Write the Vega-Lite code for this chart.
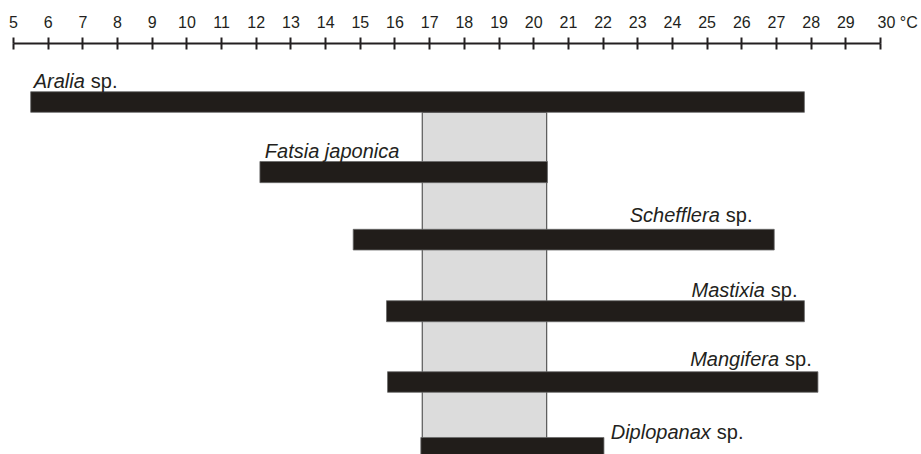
{
  "$schema": "https://vega.github.io/schema/vega-lite/v6.json",
  "width": 867,
  "height": 411,
  "padding": {"left": 13, "top": 43, "right": 41, "bottom": 0},
  "autosize": {"type": "none"},
  "background": "white",
  "config": {"view": {"stroke": null}, "font": "Liberation Sans"},
  "datasets": {
    "band": [{"lo": 16.8, "hi": 20.39, "top": 1.012, "bottom": 6.3}],
    "bars": [
      {"taxon": "Aralia", "lo": 5.51, "hi": 27.82, "top": 0.711, "bottom": 1.012},
      {"taxon": "Fatsia japonica", "lo": 12.12, "hi": 20.41, "top": 1.73, "bottom": 2.039},
      {"taxon": "Schefflera", "lo": 14.81, "hi": 26.95, "top": 2.72, "bottom": 3.022},
      {"taxon": "Mastixia", "lo": 15.77, "hi": 27.82, "top": 3.762, "bottom": 4.069},
      {"taxon": "Mangifera", "lo": 15.8, "hi": 28.21, "top": 4.799, "bottom": 5.099},
      {"taxon": "Diplopanax", "lo": 16.76, "hi": 22.04, "top": 5.759, "bottom": 6.066}
    ],
    "labels": [
      {"genus": "Aralia", "rest": "sp.", "split": 7.07, "base": 0.661},
      {"genus": "Fatsia japonica", "rest": "", "split": 16.14, "base": 1.674},
      {"genus": "Schefflera", "rest": "sp.", "split": 25.38, "base": 2.609},
      {"genus": "Mastixia", "rest": "sp.", "split": 26.68, "base": 3.701},
      {"genus": "Mangifera", "rest": "sp.", "split": 27.09, "base": 4.715},
      {"genus": "Diplopanax", "rest": "sp.", "split": 25.12, "base": 5.78}
    ]
  },
  "layer": [
    {
      "data": {"name": "band"},
      "mark": {"type": "rect", "fill": "#dcdcdc", "stroke": "#3a3a3a", "strokeWidth": 1},
      "encoding": {
        "x": {"field": "lo", "type": "quantitative", "scale": {"domain": [5, 30], "nice": false, "zero": false},
          "axis": {"orient": "top", "values": [5,6,7,8,9,10,11,12,13,14,15,16,17,18,19,20,21,22,23,24,25,26,27,28,29,30], "tickSize": -6, "tickWidth": 2, "tickColor": "#231f20", "domain": false, "labels": false, "grid": false, "title": null}},
        "x2": {"field": "hi"},
        "y": {"field": "top", "type": "quantitative", "scale": {"domain": [0, 6], "reverse": true, "nice": false, "zero": false}, "axis": null},
        "y2": {"field": "bottom"}
      }
    },
    {
      "data": {"name": "bars"},
      "mark": {"type": "rect", "fill": "#211d1a", "stroke": "#6a6a6a", "strokeWidth": 0.8},
      "encoding": {
        "x": {"field": "lo", "type": "quantitative",
          "axis": {"orient": "top", "values": [5,6,7,8,9,10,11,12,13,14,15,16,17,18,19,20,21,22,23,24,25,26,27,28,29,30], "tickSize": 6, "tickWidth": 2, "tickColor": "#231f20", "domain": true, "domainWidth": 2, "domainColor": "#231f20", "labelFontSize": 16, "labelColor": "#231f20", "labelFont": "Liberation Sans", "labelPadding": 10, "labelBaseline": "alphabetic", "labelFlush": false, "labelOverlap": false, "grid": false, "title": null,
            "labelExpr": "datum.value == 30 ? '30 °C' : datum.label",
            "labelAlign": {"condition": {"test": "datum.value == 30", "value": "left"}, "value": "center"},
            "labelOffset": {"condition": {"test": "datum.value == 30", "value": -3}, "value": 0}}},
        "x2": {"field": "hi"},
        "y": {"field": "top", "type": "quantitative"},
        "y2": {"field": "bottom"}
      }
    },
    {
      "data": {"name": "labels"},
      "mark": {"type": "text", "align": "right", "baseline": "alphabetic", "fontStyle": "italic", "fontSize": 20, "font": "Liberation Sans", "color": "#231f20"},
      "encoding": {
        "x": {"field": "split", "type": "quantitative"},
        "y": {"field": "base", "type": "quantitative"},
        "text": {"field": "genus"}
      }
    },
    {
      "data": {"name": "labels"},
      "mark": {"type": "text", "align": "left", "baseline": "alphabetic", "fontSize": 20, "font": "Liberation Sans", "color": "#231f20", "dx": 6},
      "encoding": {
        "x": {"field": "split", "type": "quantitative"},
        "y": {"field": "base", "type": "quantitative"},
        "text": {"field": "rest"}
      }
    }
  ],
  "resolve": {"axis": {"x": "independent"}}
}
